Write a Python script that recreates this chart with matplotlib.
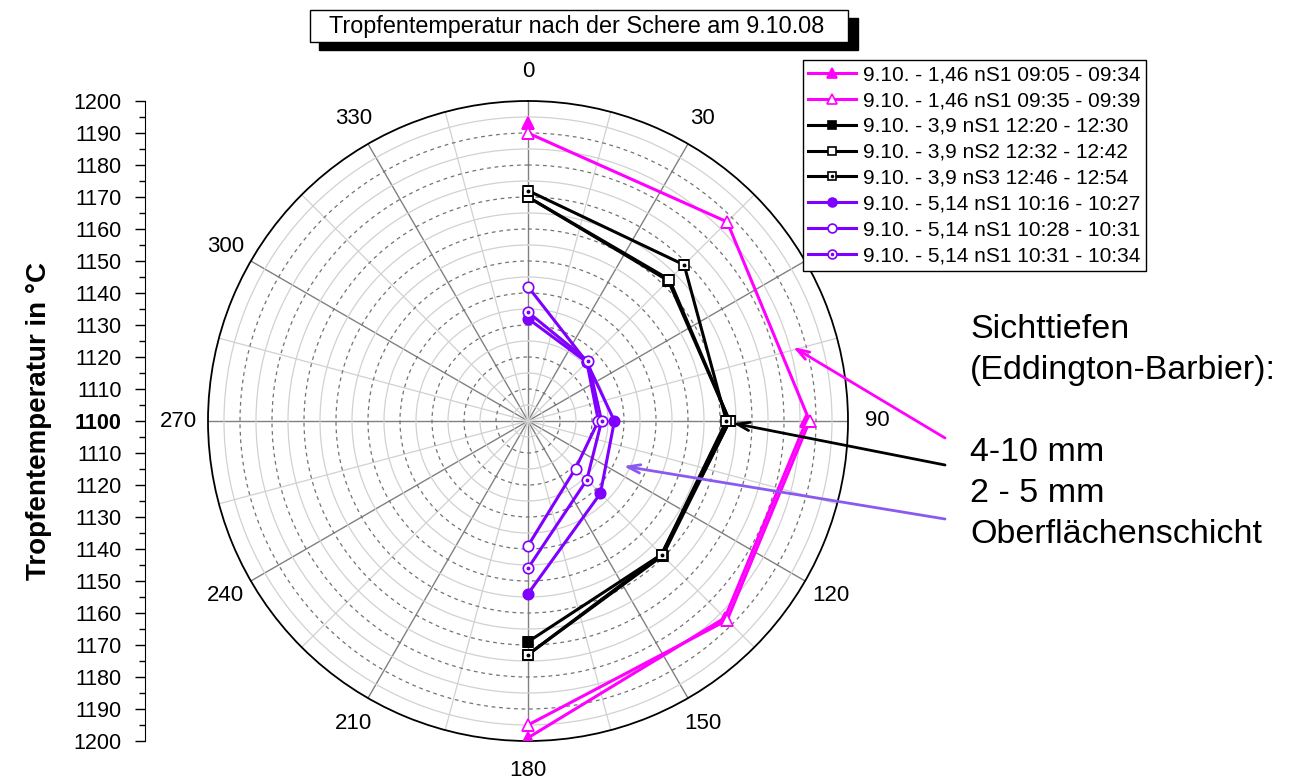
import numpy as np
import matplotlib
matplotlib.use("Agg")
import matplotlib.pyplot as plt
from matplotlib.patches import Rectangle

plt.rcParams['font.family'] = ['Liberation Sans', 'DejaVu Sans']

# data: angle in degrees, droplet temperature in degC
angles = [0, 45, 90, 135, 180]

mag_1 = [1193, np.nan, 1187, 1187, 1199]   # 1,46 nS1 09:05 - 09:34
mag_2 = [1190, 1188, 1188, 1188, 1195]     # 1,46 nS1 09:35 - 09:39
blk_1 = [1170, 1162, 1163, 1159, 1169]     # 3,9 nS1
blk_2 = [1170, 1162.5, 1163, 1159.5, 1173]  # 3,9 nS2
blk_3 = [1172, 1169, 1162, 1159, 1173]     # 3,9 nS3
pur_1 = [1132, 1126, 1127, 1132, 1154]     # 5,14 nS1 10:16
pur_2 = [1142, 1126, 1122, 1121, 1139]     # 5,14 nS1 10:28
pur_3 = [1134, 1126.5, 1123, 1126, 1146]   # 5,14 nS1 10:31

labels = ["9.10. - 1,46 nS1 09:05 - 09:34",
          "9.10. - 1,46 nS1 09:35 - 09:39",
          "9.10. - 3,9 nS1 12:20 - 12:30",
          "9.10. - 3,9 nS2 12:32 - 12:42",
          "9.10. - 3,9 nS3 12:46 - 12:54",
          "9.10. - 5,14 nS1 10:16 - 10:27",
          "9.10. - 5,14 nS1 10:28 - 10:31",
          "9.10. - 5,14 nS1 10:31 - 10:34"]

MAG = '#FF00FF'
PUR = '#7F00FF'
PUR_ARROW = '#8A5AF0'

W, H = 1292, 783
fig = plt.figure(figsize=(W / 100, H / 100), dpi=100)

cx, cy, R = 528, 421, 320
ax = fig.add_axes([(cx - R) / W, (H - cy - R) / H, 2 * R / W, 2 * R / H],
                  projection='polar')
ax.set_theta_zero_location('N')
ax.set_theta_direction(-1)
ax.set_ylim(1100, 1200)

ax.set_xticks(np.deg2rad(np.arange(0, 360, 30)))
ax.set_xticklabels([str(a) for a in range(0, 360, 30)], fontsize=16)
ax.set_xticks(np.deg2rad(np.arange(15, 360, 30)), minor=True)
ax.set_yticks(np.arange(1110, 1200, 10))
ax.set_yticks(np.arange(1105, 1200, 10), minor=True)
ax.set_yticklabels([])
ax.tick_params(axis='y', which='both', length=0)
ax.tick_params(axis='x', which='major', direction='in', length=9, width=1,
               color='k', pad=14)
ax.tick_params(axis='x', which='minor', direction='in', length=5, width=1,
               color='k')
ax.xaxis.grid(True, which='major', color='0.5', lw=1.0)
ax.xaxis.grid(True, which='minor', color='0.82', lw=0.9)
ax.yaxis.grid(True, which='major', color='0.45', lw=0.9, ls=(0, (3, 3)))
ax.yaxis.grid(True, which='minor', color='0.82', lw=0.9)
ax.spines['polar'].set_linewidth(1.3)

th = np.deg2rad(angles)
lw = 2.2


def series(vals, color, marker, face, ms, dot=False):
    ln, = ax.plot(th, vals, color=color, lw=lw, marker=marker, ms=ms,
                  mfc=face, mec=color, mew=1.2, zorder=3)
    if dot:
        dl, = ax.plot(th, vals, ls='none', marker='o', ms=1.8, color=color,
                      zorder=4)
        return (ln, dl)
    return ln


h_p1 = series(pur_1, PUR, 'o', PUR, 7.5)
h_p2 = series(pur_2, PUR, 'o', 'white', 7.5)
h_p3 = series(pur_3, PUR, 'o', 'white', 7.5, dot=True)
h_b1 = series(blk_1, 'k', 's', 'k', 6.5)
h_b2 = series(blk_2, 'k', 's', 'white', 6.5)
h_b3 = series(blk_3, 'k', 's', 'white', 6.5, dot=True)
h_m1 = series(mag_1, MAG, '^', MAG, 8.5)
h_m2 = series(mag_2, MAG, '^', 'white', 8.5)

handles = [h_m1, h_m2, h_b1, h_b2, h_b3, h_p1, h_p2, h_p3]
leg = fig.legend(handles, labels, loc='upper left',
                 bbox_to_anchor=(803 / W, 1 - 60 / H), borderaxespad=0,
                 fontsize=15, frameon=True, fancybox=False, framealpha=1,
                 edgecolor='k', borderpad=0.25, labelspacing=0.33,
                 handlelength=2.3, handletextpad=0.35, markerscale=0.85)
leg.get_frame().set_linewidth(1.0)
leg.set_zorder(10)

# left linear temperature scale
ax2 = fig.add_axes([145 / W, (H - cy - R) / H, 0.0001, 2 * R / H])
ax2.set_ylim(-100, 100)
ticks = np.arange(-100, 101, 10)
ax2.set_yticks(ticks)
ax2.set_yticks(np.arange(-95, 100, 10), minor=True)
ax2.set_yticklabels([str(1100 + abs(t)) for t in ticks], fontsize=15.5)
for t, lab in zip(ticks, ax2.get_yticklabels()):
    if t == 0:
        lab.set_fontweight('bold')
ax2.set_xticks([])
for s in ['top', 'right', 'bottom']:
    ax2.spines[s].set_visible(False)
ax2.tick_params(axis='y', which='major', length=7, width=1, pad=10)
ax2.tick_params(axis='y', which='minor', length=4, width=1)
ax2.set_ylabel("Tropfentemperatur in °C", fontsize=20, fontweight='bold',
               labelpad=15)
ax2.patch.set_visible(False)

# title box with shadow
fig.add_artist(Rectangle((319 / W, 1 - 50 / H), 539 / W, 32 / H,
                         transform=fig.transFigure, color='k', zorder=5))
fig.add_artist(Rectangle((310 / W, 1 - 42 / H), 538 / W, 32 / H,
                         transform=fig.transFigure, facecolor='white',
                         edgecolor='k', lw=1, zorder=6))
fig.text(577 / W, 1 - 27 / H, "Tropfentemperatur nach der Schere am 9.10.08",
         ha='center', va='center', fontsize=16.8, zorder=7)

# annotation text
note = ["Sichttiefen", "(Eddington-Barbier):", "", "4-10 mm", "2 - 5 mm",
        "Oberflächenschicht"]
for i, line in enumerate(note):
    fig.text(970 / W, 1 - (338 + 41 * i) / H, line, fontsize=24.5,
             va='baseline', ha='left')

# arrows pointing at the curves
arrows = [(74.4, 1186, 945, 438, MAG),
          (90.6, 1164, 945, 465, 'k'),
          (115.3, 1133, 945, 519, PUR_ARROW)]
for ang, r, x0, y0, col in arrows:
    ax.annotate("", xy=(np.deg2rad(ang), r), xycoords='data',
                xytext=(x0, H - y0), textcoords='figure pixels',
                arrowprops=dict(arrowstyle='->,head_length=0.9,head_width=0.3',
                                color=col, lw=2, shrinkA=0, shrinkB=0),
                annotation_clip=False, zorder=8)

fig.savefig("out.png", dpi=100)
